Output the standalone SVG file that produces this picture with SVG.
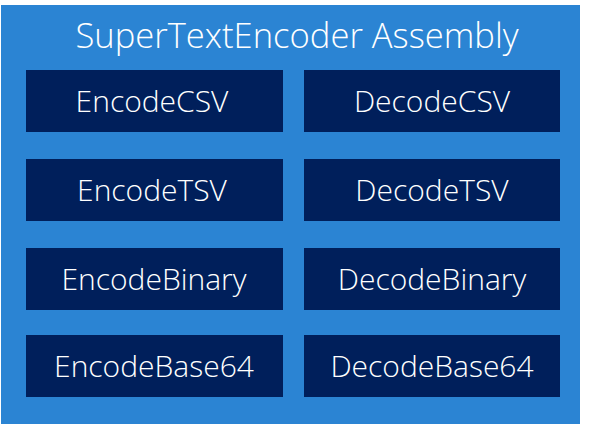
<svg xmlns="http://www.w3.org/2000/svg" width="589" height="424" viewBox="0 0 589 424">
<style>
.bg{fill:#2b84d3}
.box{fill:#001f5b}
text{font-family:"Open Sans","Noto Sans","DejaVu Sans",sans-serif;font-weight:300;fill:#ffffff;text-anchor:middle}
.t{font-size:34.6px}
.l{font-size:30px}
</style>
<rect width="589" height="424" fill="#ffffff"/>
<g id="assembly">
<rect class="bg" x="1" y="5" width="579" height="419"/>
<text class="t" x="297" y="48">SuperTextEncoder Assembly</text>
</g>
<g id="EncodeCSV"><rect class="box" x="26" y="70" width="257" height="62"/><text class="l" x="152" y="112">EncodeCSV</text></g>
<g id="DecodeCSV"><rect class="box" x="304" y="70" width="256" height="62"/><text class="l" x="432" y="112">DecodeCSV</text></g>
<g id="EncodeTSV"><rect class="box" x="26" y="159" width="257" height="62"/><text class="l" x="152" y="201">EncodeTSV</text></g>
<g id="DecodeTSV"><rect class="box" x="304" y="159" width="256" height="62"/><text class="l" x="432" y="201">DecodeTSV</text></g>
<g id="EncodeBinary"><rect class="box" x="26" y="248" width="257" height="62"/><text class="l" x="154" y="290">EncodeBinary</text></g>
<g id="DecodeBinary"><rect class="box" x="304" y="248" width="256" height="62"/><text class="l" x="432" y="290">DecodeBinary</text></g>
<g id="EncodeBase64"><rect class="box" x="26" y="335" width="257" height="62"/><text class="l" x="154" y="377">EncodeBase64</text></g>
<g id="DecodeBase64"><rect class="box" x="304" y="335" width="256" height="62"/><text class="l" x="432" y="377">DecodeBase64</text></g>
<g id="connectors"/>
</svg>
